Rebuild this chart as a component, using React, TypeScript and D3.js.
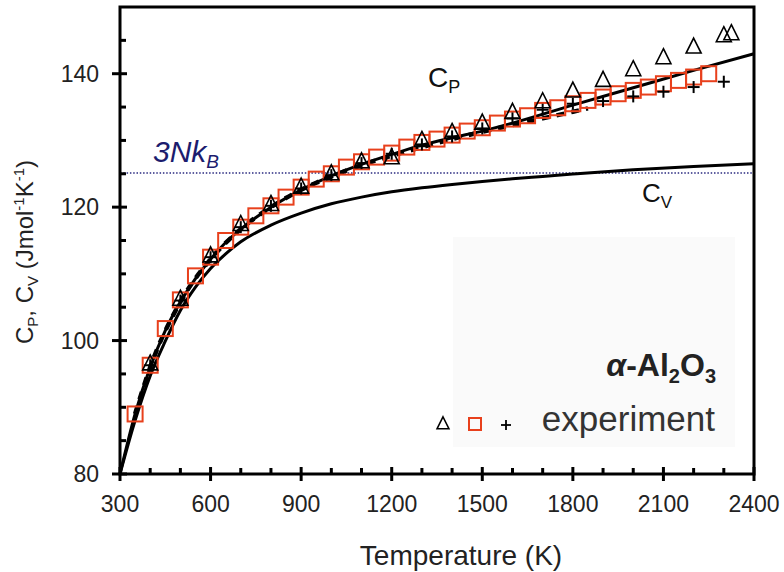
import React from "react";
import * as d3 from "d3";

// ---- data ----
const cpCalcT = [300, 350, 400, 450, 500, 550, 600, 650, 700, 800, 900, 1000, 1100, 1200, 1300, 1400, 1500, 1600, 1800, 2000, 2200, 2400];
const cpCalcV = [80, 89, 96, 101.5, 105.8, 109.3, 112.2, 114.7, 116.7, 120.0, 122.6, 124.7, 126.4, 127.9, 129.3, 130.4, 131.4, 132.6, 135.3, 137.9, 140.5, 143.0];

const cvCalcT = [300, 350, 400, 450, 500, 550, 600, 650, 700, 800, 900, 1000, 1100, 1200, 1300, 1400, 1500, 1600, 1700, 1800, 2000, 2200, 2400];
const cvCalcV = [80, 88.0, 94.7, 99.9, 104.5, 108.0, 110.8, 113.0, 114.8, 117.3, 119.1, 120.5, 121.5, 122.3, 122.9, 123.4, 123.85, 124.25, 124.6, 124.95, 125.6, 126.1, 126.5];

const dashT = [350, 400, 500, 600, 700, 800, 900, 1000, 1100, 1200, 1300, 1400, 1500, 1600, 1700, 1800, 1850];
const dashV = [89, 96, 105.8, 112.2, 116.7, 120.0, 122.6, 124.6, 126.3, 127.7, 129.0, 130.2, 131.3, 132.3, 133.3, 134.3, 134.8];

const squareT = [350, 400, 450, 500, 550, 600, 650, 700, 750, 800, 850, 900, 950, 1000, 1050, 1100, 1150, 1200, 1250, 1300, 1350, 1400, 1450, 1500, 1550, 1600, 1650, 1700, 1750, 1800, 1850, 1900, 1950, 2000, 2050, 2100, 2150, 2200, 2250];
const squareV = [89.0, 96.3, 101.8, 106.1, 109.7, 112.5, 115.0, 117.0, 118.7, 120.2, 121.5, 123.0, 124.2, 125.0, 126.0, 126.8, 127.5, 128.1, 129.0, 129.7, 130.2, 130.8, 131.4, 131.9, 132.6, 133.2, 133.7, 134.5, 134.9, 135.5, 136.0, 136.5, 137.0, 137.5, 138.0, 138.5, 139.0, 139.5, 140.0];

const triT = [400, 500, 600, 700, 800, 900, 1000, 1100, 1200, 1300, 1400, 1500, 1600, 1700, 1800, 1900, 2000, 2100, 2200, 2300, 2325];
const triV = [96.5, 106.2, 112.7, 117.4, 120.4, 123.0, 125.0, 126.8, 127.4, 130.0, 131.2, 132.6, 134.2, 135.8, 137.4, 139.0, 140.6, 142.4, 144.0, 145.7, 146.0];

const plusT = [400, 500, 600, 700, 800, 900, 1000, 1100, 1200, 1300, 1400, 1500, 1600, 1700, 1800, 1900, 2000, 2100, 2200, 2300];
const plusV = [96.3, 106.0, 112.5, 117.0, 120.2, 122.8, 124.8, 126.6, 128.0, 129.4, 130.6, 131.8, 133.3, 134.6, 135.5, 135.9, 136.6, 137.3, 138.0, 138.8];

const xMajorTicks = [300, 600, 900, 1200, 1500, 1800, 2100, 2400];
const yMajorTicks = [80, 100, 120, 140];
const threeNkB = 125.1;

const W = 784;
const H = 572;
const FONT = "'Liberation Sans', Arial, Helvetica, sans-serif";

export default function App() {
  const x = d3.scaleLinear().domain([300, 2400]).range([120, 754]);
  const y = d3.scaleLinear().domain([80, 150]).range([474, 7]);

  const line = d3
    .line<[number, number]>()
    .x((d) => x(d[0]))
    .y((d) => y(d[1]))
    .curve(d3.curveMonotoneX);

  const zip = (a: number[], b: number[]) => a.map((v, i) => [v, b[i]] as [number, number]);

  const xMinor = d3.range(300, 2401, 100).filter((t) => !xMajorTicks.includes(t));
  const yMinor = d3.range(80, 151, 5).filter((v) => !yMajorTicks.includes(v) && v < 150);

  const triPath = (cx: number, cy: number, s: number) =>
    `M${cx},${cy - s * 0.6}L${cx + s / 2},${cy + s * 0.4}L${cx - s / 2},${cy + s * 0.4}Z`;

  const x0 = x(300), x1 = x(2400), y0 = y(80), y1 = y(150);

  return (
    <svg
      width={W}
      height={H}
      viewBox={`0 0 ${W} ${H}`}
      style={{ position: "absolute", left: 0, top: 0, background: "#fff" }}
      fontFamily={FONT}
    >
      <rect x={0} y={0} width={W} height={H} fill="#fff" />
      {/* faint legend background */}
      <rect x={453} y={237} width={282} height={210} fill="#fafafa" />

      {/* 3NkB dotted line */}
      <line x1={x0} x2={x1} y1={y(threeNkB)} y2={y(threeNkB)} stroke="#2a2a80" strokeWidth={1.5} strokeDasharray="1.5 1.8" />
      <text x={153} y={162} fontSize={30} fontStyle="italic" fill="#1c1c6e">
        3Nk
        <tspan fontSize={19} dy={6}>B</tspan>
      </text>

      {/* curves */}
      <path d={line(zip(cvCalcT, cvCalcV)) || ""} fill="none" stroke="#000" strokeWidth={3} />
      <path d={line(zip(cpCalcT, cpCalcV)) || ""} fill="none" stroke="#000" strokeWidth={3} />
      <path d={line(zip(dashT, dashV)) || ""} fill="none" stroke="#000" strokeWidth={4.5} strokeDasharray="8 7" />

      {/* squares */}
      {squareT.map((t, i) => (
        <rect key={"s" + i} x={x(t) - 7.5} y={y(squareV[i]) - 7.5} width={15} height={15} fill="none" stroke="#e8401c" strokeWidth={2} />
      ))}
      {/* triangles */}
      {triT.map((t, i) => (
        <path key={"t" + i} d={triPath(x(t), y(triV[i]), 15)} fill="none" stroke="#000" strokeWidth={1.6} />
      ))}
      {/* pluses */}
      {plusT.map((t, i) => (
        <g key={"p" + i} stroke="#000" strokeWidth={2}>
          <line x1={x(t) - 6} x2={x(t) + 6} y1={y(plusV[i])} y2={y(plusV[i])} />
          <line x1={x(t)} x2={x(t)} y1={y(plusV[i]) - 6} y2={y(plusV[i]) + 6} />
        </g>
      ))}

      {/* labels on curves */}
      <text x={428} y={87} fontSize={28} fill="#111">
        C<tspan fontSize={18} dy={6}>P</tspan>
      </text>
      <text x={642} y={202} fontSize={26} fill="#111">
        C<tspan fontSize={17} dy={6}>V</tspan>
      </text>

      {/* legend text */}
      <text x={716} y={376} fontSize={32} fontWeight="bold" textAnchor="end" fill="#222">
        <tspan fontStyle="italic">α</tspan>-Al<tspan fontSize={20} dy={7}>2</tspan>
        <tspan dy={-7}>O</tspan>
        <tspan fontSize={20} dy={7}>3</tspan>
      </text>
      <path d={triPath(443, 424, 12)} fill="none" stroke="#000" strokeWidth={1.5} />
      <rect x={469} y={418} width={12} height={12} fill="none" stroke="#e8401c" strokeWidth={2} />
      <g stroke="#000" strokeWidth={1.8}>
        <line x1={501} x2={511} y1={425} y2={425} />
        <line x1={506} x2={506} y1={420} y2={430} />
      </g>
      <text x={715} y={431} fontSize={35} textAnchor="end" fill="#333">experiment</text>

      {/* frame */}
      <rect x={x0} y={y1} width={x1 - x0} height={y0 - y1} fill="none" stroke="#000" strokeWidth={3} />

      {/* x ticks */}
      {xMajorTicks.map((t) => (
        <line key={"xm" + t} x1={x(t)} x2={x(t)} y1={y0 - 7} y2={y0 + 7} stroke="#000" strokeWidth={3} />
      ))}
      {xMinor.map((t) => (
        <line key={"xn" + t} x1={x(t)} x2={x(t)} y1={y0 - 6} y2={y0} stroke="#000" strokeWidth={3} />
      ))}
      {xMajorTicks.map((t) => (
        <text key={"xl" + t} x={x(t)} y={512} fontSize={23} textAnchor="middle" fill="#222">
          {t}
        </text>
      ))}

      {/* y ticks */}
      {yMajorTicks.map((v) => (
        <line key={"ym" + v} x1={x0 - 8} x2={x0 + 7} y1={y(v)} y2={y(v)} stroke="#000" strokeWidth={3} />
      ))}
      {yMinor.map((v) => (
        <line key={"yn" + v} x1={x0} x2={x0 + 6} y1={y(v)} y2={y(v)} stroke="#000" strokeWidth={3} />
      ))}
      {yMajorTicks.map((v) => (
        <text key={"yl" + v} x={99} y={y(v) + 8} fontSize={23} textAnchor="end" fill="#222">
          {v}
        </text>
      ))}

      {/* axis titles */}
      <text x={461} y={565} fontSize={28} textAnchor="middle" fill="#222">
        Temperature (K)
      </text>
      <text transform="translate(33,252) rotate(-90)" fontSize={24} textAnchor="middle" fill="#222">
        C<tspan fontSize={15} dy={5}>P</tspan>
        <tspan dy={-5}>, C</tspan>
        <tspan fontSize={15} dy={5}>V</tspan>
        <tspan dy={-5}> (Jmol</tspan>
        <tspan fontSize={15} dy={-9}>-1</tspan>
        <tspan dy={9}>K</tspan>
        <tspan fontSize={15} dy={-9}>-1</tspan>
        <tspan dy={9}>)</tspan>
      </text>
    </svg>
  );
}
